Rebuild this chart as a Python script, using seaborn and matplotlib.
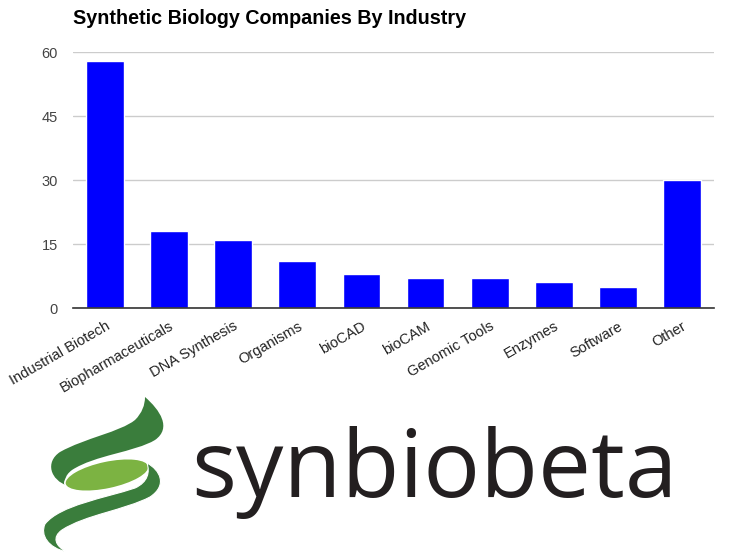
import matplotlib
matplotlib.use("Agg")
import matplotlib.pyplot as plt
import seaborn as sns
import pandas as pd
from matplotlib.path import Path
from matplotlib.patches import PathPatch, Ellipse

categories = ["Industrial Biotech", "Biopharmaceuticals", "DNA Synthesis", "Organisms",
              "bioCAD", "bioCAM", "Genomic Tools", "Enzymes", "Software", "Other"]
companies = [58, 18, 16, 11, 8, 7, 7, 6, 5, 30]
y_ticks = [0, 15, 30, 45, 60]
title = "Synthetic Biology Companies By Industry"
logo_text = "synbiobeta"

df = pd.DataFrame({"industry": categories, "companies": companies})

sns.set_theme(style="white")
plt.rcParams["font.family"] = ["Liberation Sans", "DejaVu Sans"]

W, H = 739, 558
fig = plt.figure(figsize=(W / 100, H / 100), dpi=100)
fig.patch.set_facecolor("white")

# chart axes (pixel bounds: x 73..714, y 52..308)
ax = fig.add_axes([73 / W, 1 - 308 / H, (714 - 73) / W, (308 - 52) / H])
sns.barplot(data=df, x="industry", y="companies", color="#0000ff", width=0.59,
            saturation=1, ax=ax, zorder=3)
ax.set_ylim(0, 60)
ax.set_xlim(-0.5, len(categories) - 0.5)
ax.set_yticks(y_ticks)
ax.set_yticklabels([str(v) for v in y_ticks])
ax.set_xlabel("")
ax.set_ylabel("")
ax.yaxis.grid(True, color="#cccccc", linewidth=1, zorder=0)
ax.xaxis.grid(False)
for s in ["top", "right", "left"]:
    ax.spines[s].set_visible(False)
ax.spines["bottom"].set_color("#333333")
ax.spines["bottom"].set_linewidth(1.2)
ax.spines["bottom"].set_zorder(4)
ax.tick_params(axis="y", length=0, pad=11, labelsize=10.5, labelcolor="#444444")
ax.tick_params(axis="x", length=0, pad=8, labelsize=10.5, labelcolor="#222222")
for lab in ax.get_xticklabels():
    lab.set_rotation(30)
    lab.set_ha("right")
    lab.set_rotation_mode("anchor")

fig.text(73 / W, 1 - 19 / H, title, fontsize=14.2, fontweight="bold",
         color="#000000", ha="left", va="center")

# logo axes in pixel coordinates
lax = fig.add_axes([0, 0, 1, 1], zorder=-1)
lax.set_xlim(0, W)
lax.set_ylim(H, 0)
lax.axis("off")

dark = "#3a7d3c"
light = "#7cb342"

codes = [Path.MOVETO] + [Path.CURVE4] * 18 + [Path.CLOSEPOLY]
top_verts = [
    (145, 397),
    (160, 410), (172, 428), (155, 440),
    (135, 452), (95, 455), (72, 470),
    (64, 476), (64, 482), (68, 486),
    (50, 480), (45, 462), (60, 452),
    (85, 438), (120, 432), (135, 420),
    (142, 413), (145, 405), (145, 397),
    (145, 397),
]
lax.add_patch(PathPatch(Path(top_verts, codes), facecolor=dark, edgecolor="none"))

lax.add_patch(Ellipse((107, 475), 86, 28, angle=-12, facecolor=light,
                      edgecolor="white", linewidth=1.2))

bot_verts = [
    (147, 463),
    (160, 470), (168, 485), (150, 497),
    (125, 510), (85, 515), (62, 530),
    (52, 537), (55, 546), (67, 552),
    (48, 548), (40, 535), (45, 524),
    (60, 505), (105, 498), (135, 488),
    (148, 482), (150, 472), (147, 463),
    (147, 463),
]
lax.add_patch(PathPatch(Path(bot_verts, codes), facecolor=dark, edgecolor="white",
                        linewidth=0.8))

lax.text(191, 497, logo_text, fontsize=68, color="#231f20", ha="left",
         va="baseline", family=["Open Sans", "DejaVu Sans"], fontweight="normal")

fig.savefig("out.png", dpi=100, facecolor="white")
